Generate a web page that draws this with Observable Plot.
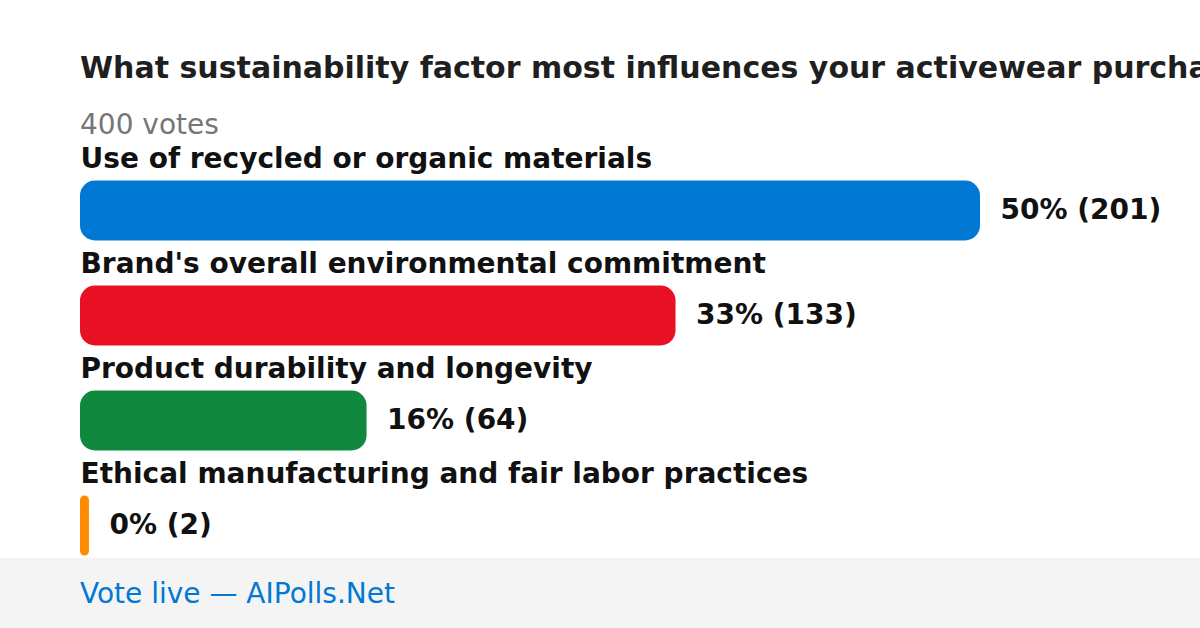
<!DOCTYPE html>
<html>
<head>
<meta charset="utf-8">
<script src="https://cdn.jsdelivr.net/npm/d3@7"></script>
<script src="https://cdn.jsdelivr.net/npm/@observablehq/plot@0.6"></script>
<style>
  html, body { margin: 0; padding: 0; width: 1200px; height: 628px; overflow: hidden; background: #fff; font-family: "DejaVu Sans", sans-serif; }
  .abs { position: absolute; left: 80px; white-space: nowrap; line-height: 1; }
  #title { top: 52.5px; font-size: 30px; font-weight: bold; color: #1f1f1f; }
  #subtitle { top: 110.5px; font-size: 28px; color: #767676; }
  #chart { position: absolute; left: 0; top: 140px; }
  #footer { position: absolute; left: 0; top: 558px; width: 1200px; height: 70px; background: #f4f4f4; }
  #foottext { top: 580px; font-size: 28px; color: #0078d4; }
</style>
</head>
<body>
<div id="title" class="abs">What sustainability factor most influences your activewear purchases?</div>
<div id="subtitle" class="abs">400 votes</div>
<div id="chart"></div>
<div id="footer"></div>
<div id="foottext" class="abs">Vote live — AIPolls.Net</div>
<script>
const categories = [
  "Use of recycled or organic materials",
  "Brand's overall environmental commitment",
  "Product durability and longevity",
  "Ethical manufacturing and fair labor practices"
];
const votes = [201, 133, 64, 2];
const percents = [50, 33, 16, 0];
const colors = ["#0078d4", "#e81123", "#10893e", "#ff8c00"];

const data = categories.map((c, i) => ({
  category: c,
  votes: votes[i],
  label: `${percents[i]}% (${votes[i]})`,
  color: colors[i]
}));

const chart = Plot.plot({
  width: 1200,
  height: 418,
  margin: 0,
  x: { domain: [0, d3.max(votes)], range: [80, 980], axis: null },
  y: { type: "band", domain: categories, range: [17.5, 437.5], padding: 0, axis: null },
  style: { fontFamily: "DejaVu Sans, sans-serif", overflow: "visible" },
  marks: [
    Plot.barX(data, {
      x: "votes", y: "category", fill: "color",
      insetTop: 22.5, insetBottom: 22.5, rx: 15
    }),
    Plot.text(data, {
      x: 0, y: "category", text: "category", textAnchor: "start",
      dy: -52, fontSize: 28, fontWeight: "bold", fill: "#111"
    }),
    Plot.text(data, {
      x: "votes", y: "category", text: "label", textAnchor: "start",
      dx: 20, dy: -1, fontSize: 28, fontWeight: "bold", fill: "#111"
    })
  ]
});
// keep corner radius proportional for very narrow bars
d3.select(chart).selectAll("rect").each(function() {
  const w = +this.getAttribute("width");
  if (w && w < 30) { this.setAttribute("rx", w / 2); this.setAttribute("ry", w / 2); }
});
document.getElementById("chart").appendChild(chart);
</script>
</body>
</html>
